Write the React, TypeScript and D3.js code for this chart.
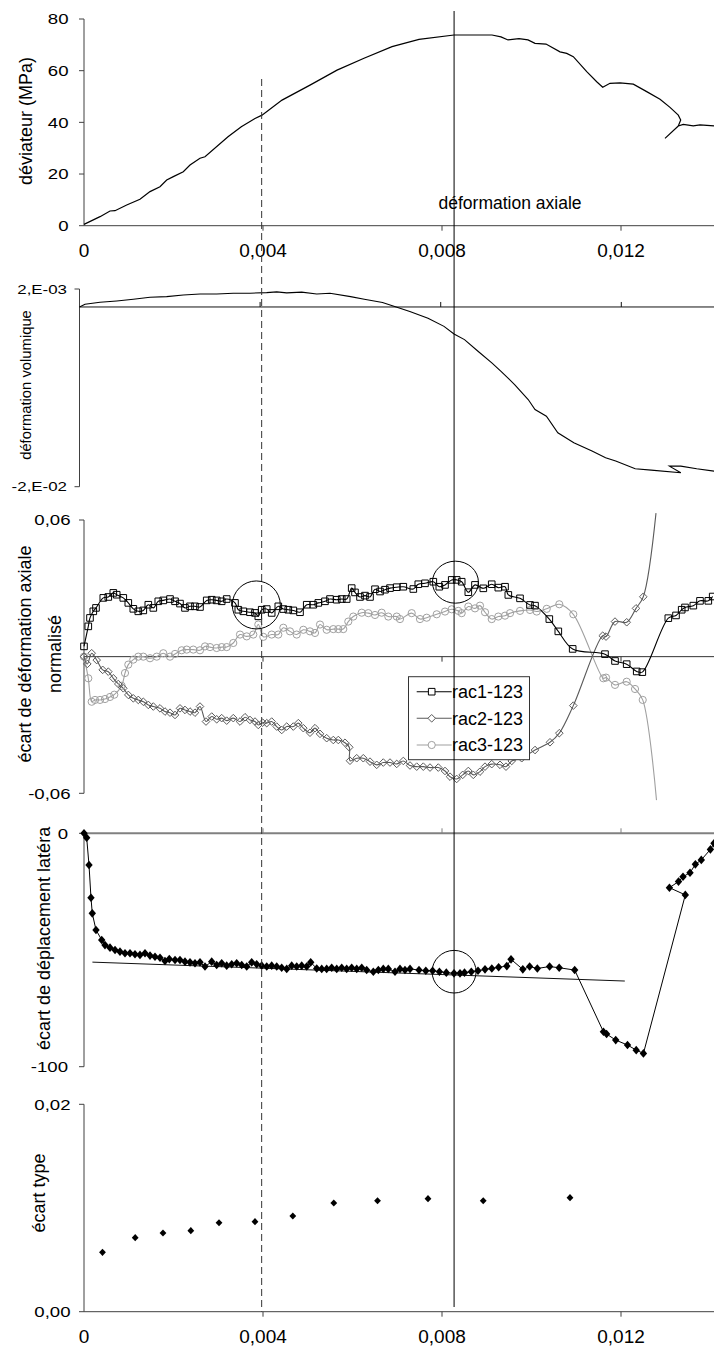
import React from "react";
import * as d3 from "d3";

const W = 714;
const H = 1347;
const FONT = "'Liberation Sans', Arial, Helvetica, sans-serif";
const E4 = 1e-4; // strain arrays below are given in units of 1e-4

// ---------- Panel 1 : déviateur (MPa) vs axial strain ----------
const devStrain = [0, 3.58, 5.81, 6.93, 9.54, 12.51, 14.75, 16.98, 18.48, 19.96, 22.19, 23.69, 25.92, 27.04, 32.18, 35.15, 38.21, 39.78, 44.25, 50.5, 56.54, 62.57, 68.83, 74.86, 82.68, 91.17, 93.18, 94.75, 97.21, 99.22, 100.78, 103.24, 106.37, 107.87, 109.34, 112.34, 114.57, 115.91, 117.54, 119.78, 122.75, 125.74, 128.72, 130.95, 132.8, 133.34, 132.8, 129.83, 132.8, 133.92, 136.15, 137.65, 140.78];
const devStress = [0.5, 3.5, 5.7, 5.8, 8.0, 10.2, 13.2, 15.1, 17.7, 19.0, 20.9, 23.5, 26.1, 26.7, 34.4, 38.3, 41.5, 42.8, 48.6, 54.4, 60.2, 64.8, 69.3, 72.1, 73.8, 73.8, 73.1, 71.9, 72.4, 71.9, 70.6, 70.3, 67.3, 66.7, 65.4, 59.6, 55.7, 53.6, 55.1, 55.3, 54.8, 51.9, 48.9, 45.8, 42.8, 40.9, 38.6, 33.8, 38.6, 39.2, 38.6, 39.0, 38.6];
const devTicks = [0, 20, 40, 60, 80];

// ---------- Panel 2 : déformation volumique ----------
const volStrain = [0, 1.22, 4.54, 8.24, 11.92, 15.61, 19.31, 22.99, 26.69, 30.39, 34.06, 37.76, 41.46, 43.68, 45.89, 49.21, 52.54, 55.48, 60.04, 63.08, 67.11, 70.14, 73.16, 77.19, 80.73, 82.95, 85.27, 88.26, 91.32, 93.36, 96.37, 99.38, 100.89, 103.41, 105.94, 109.48, 113.51, 116.52, 118.76, 123.08, 126.62, 133.18, 130.65, 133.18, 136.7, 140.53];
const volValue = [0, 0.0003, 0.00052, 0.00067, 0.00086, 0.00108, 0.00115, 0.00134, 0.00145, 0.00145, 0.00153, 0.00153, 0.0016, 0.00168, 0.00157, 0.00165, 0.00145, 0.00153, 0.00115, 0.00086, 0.0005, 0, -0.0005, -0.00125, -0.00216, -0.003, -0.00363, -0.00493, -0.00622, -0.00716, -0.00863, -0.0103, -0.01141, -0.01215, -0.014, -0.01511, -0.01604, -0.01678, -0.01715, -0.018, -0.01816, -0.01845, -0.01771, -0.01771, -0.018, -0.01827];
const volTicks = [0.002, -0.02];
const volTickLabels = ["2,E-03", "-2,E-02"];

// ---------- Panel 3 : écart de déformation axiale normalisé ----------
const rac1Strain = [0, 0.96, 1.34, 2.08, 2.68, 4.31, 5.43, 6.55, 7.31, 8.78, 9.9, 11.02, 12.13, 13.25, 14.37, 15.49, 16.6, 17.72, 19.22, 20.34, 21.45, 22.57, 23.69, 24.8, 25.92, 27.42, 28.54, 29.65, 30.77, 31.89, 33.74, 34.48, 35.6, 37.09, 38.21, 38.95, 39.71, 40.83, 41.94, 43.42, 44.54, 45.65, 46.77, 48.27, 49.77, 51.24, 52.36, 53.85, 54.97, 56.47, 57.59, 58.7, 59.82, 60.56, 61.68, 62.79, 63.91, 65.03, 66.15, 67.26, 68.38, 69.88, 71.35, 73.59, 74.7, 76.2, 78.06, 79.4, 80.67, 82.17, 83.28, 84.4, 85.88, 87.37, 89.23, 91.11, 92.58, 94.08, 94.82, 97.43, 99.66, 100.78, 103.98, 105.99, 109.2, 116.42, 118.66, 121.27, 123.51, 124.76, 130.57, 132.29, 133.56, 134.3, 136.16, 137.65, 139.51, 140.49];
const rac1Value = [0.0045, 0.0133, 0.017, 0.0199, 0.0214, 0.0258, 0.0262, 0.028, 0.0272, 0.0258, 0.0236, 0.021, 0.0199, 0.0203, 0.0228, 0.0214, 0.0243, 0.0247, 0.0253, 0.0243, 0.0233, 0.0214, 0.0221, 0.0221, 0.0218, 0.0247, 0.025, 0.0247, 0.0243, 0.0253, 0.0236, 0.0206, 0.0199, 0.0195, 0.0192, 0.0177, 0.0206, 0.0209, 0.0192, 0.0221, 0.0209, 0.0206, 0.0203, 0.0195, 0.0228, 0.0228, 0.0236, 0.0243, 0.0253, 0.025, 0.0253, 0.0253, 0.0301, 0.0282, 0.0262, 0.0268, 0.0262, 0.0296, 0.0286, 0.0294, 0.0301, 0.0305, 0.0307, 0.0297, 0.0318, 0.0322, 0.0329, 0.0307, 0.0315, 0.0337, 0.0337, 0.0329, 0.0283, 0.0315, 0.03, 0.0318, 0.0303, 0.0307, 0.0271, 0.0256, 0.0227, 0.0224, 0.0165, 0.0111, 0.0034, 0.0011, -0.0019, -0.0033, -0.0065, -0.0068, 0.0169, 0.0181, 0.0206, 0.0216, 0.0224, 0.0245, 0.0245, 0.0264];

const rac2Strain = [0, 0.74, 1.72, 2.84, 4.18, 5.43, 6.55, 7.66, 8.78, 9.9, 11.02, 12.13, 13.25, 14.37, 15.49, 16.98, 18.1, 19.22, 20.34, 21.45, 22.57, 23.69, 24.8, 25.92, 27.26, 28.54, 29.65, 30.77, 31.89, 33.36, 34.86, 35.98, 37.09, 38.21, 38.95, 39.93, 40.83, 41.94, 43.06, 44.18, 45.3, 46.77, 47.89, 49.01, 50.5, 51.62, 52.74, 54.23, 55.71, 56.83, 58.32, 59.28, 59.44, 60.94, 62.41, 63.91, 65.41, 66.88, 68.38, 69.88, 71.35, 72.85, 74.35, 75.82, 77.32, 79.17, 80.67, 81.79, 83.28, 84.63, 85.88, 86.99, 88.49, 89.61, 91.11, 92.96, 94.3, 95.58, 97.81, 100.78, 104.13, 106.21, 109.34, 115.91, 116.65, 118.66, 121.27, 123.35, 124.98, 127.82];
const rac2Value = [0, -0.0032, 0.0015, -0.0015, -0.0058, -0.0066, -0.0095, -0.012, -0.0139, -0.0168, -0.0183, -0.019, -0.0198, -0.0212, -0.0219, -0.0227, -0.0241, -0.0246, -0.0256, -0.0227, -0.0234, -0.0241, -0.0246, -0.0219, -0.0285, -0.0263, -0.0275, -0.027, -0.0281, -0.027, -0.0285, -0.0266, -0.0278, -0.0285, -0.03, -0.029, -0.0292, -0.0285, -0.0307, -0.0322, -0.0307, -0.0307, -0.0292, -0.0314, -0.0334, -0.0314, -0.0339, -0.0358, -0.0366, -0.0366, -0.0378, -0.0398, -0.0457, -0.0446, -0.0446, -0.0461, -0.0475, -0.0465, -0.0465, -0.0471, -0.0458, -0.0478, -0.0483, -0.0483, -0.0487, -0.0487, -0.0502, -0.0527, -0.0537, -0.0519, -0.0502, -0.0519, -0.0505, -0.0483, -0.0472, -0.0475, -0.0483, -0.0458, -0.0446, -0.041, -0.0376, -0.0336, -0.0215, 0.0092, 0.0088, 0.0154, 0.0151, 0.0212, 0.0263, 0.063];

const rac3Strain = [0, 0.96, 1.72, 2.46, 3.58, 4.69, 5.81, 6.77, 8.42, 9.16, 9.9, 11.02, 12.13, 13.25, 14.75, 16.25, 17.72, 19.22, 20.34, 21.83, 22.95, 24.42, 25.92, 27.04, 28.16, 29.65, 30.77, 31.89, 33.36, 34.86, 36.36, 37.83, 38.95, 40.07, 41.94, 43.42, 44.54, 46.03, 47.53, 49.01, 50.5, 51.62, 52.74, 54.23, 55.71, 56.83, 57.94, 59.06, 60.18, 62.06, 63.53, 65.03, 66.52, 68.0, 69.88, 70.61, 73.23, 75.08, 76.58, 78.82, 80.67, 82.17, 83.64, 84.4, 85.88, 87.37, 88.49, 89.61, 91.11, 92.58, 94.08, 95.2, 97.43, 99.66, 101.16, 103.4, 106.21, 109.34, 116.05, 116.65, 118.66, 121.27, 123.13, 124.85, 127.93];
const rac3Value = [0, -0.0095, -0.0198, -0.019, -0.019, -0.0186, -0.0177, -0.0167, -0.0128, -0.0072, -0.0035, -0.0013, 0, 0, -0.0007, 0, 0.0015, 0, 0.0012, 0.0028, 0.0031, 0.0031, 0.0028, 0.0045, 0.0042, 0.0038, 0.0042, 0.0042, 0.006, 0.0097, 0.0089, 0.0097, 0.0141, 0.0087, 0.0097, 0.0097, 0.0127, 0.0111, 0.0097, 0.0118, 0.0111, 0.0104, 0.0141, 0.0118, 0.0121, 0.0121, 0.0121, 0.0154, 0.0176, 0.0193, 0.0191, 0.0183, 0.0193, 0.0176, 0.0176, 0.0165, 0.0191, 0.0165, 0.0171, 0.0186, 0.0198, 0.0208, 0.0201, 0.0191, 0.022, 0.0212, 0.0224, 0.0195, 0.0165, 0.0176, 0.018, 0.0191, 0.0201, 0.0205, 0.0198, 0.021, 0.023, 0.0186, -0.0095, -0.0092, -0.0124, -0.011, -0.0142, -0.019, -0.063];

const seriesNames = ["rac1-123", "rac2-123", "rac3-123"];
const axTicks = [0.06, -0.06];
const axTickLabels = ["0,06", "-0,06"];

// ---------- Panel 4 : écart de déplacement latéral ----------
const latStrain = [0, 0.6, 1.12, 1.56, 1.85, 2.68, 3.96, 4.69, 5.81, 6.93, 8.04, 9.16, 10.28, 11.4, 12.51, 13.63, 14.75, 15.87, 16.98, 18.1, 19.06, 20.34, 21.45, 22.57, 23.69, 24.8, 25.92, 27.04, 28.54, 29.65, 30.77, 31.89, 33.01, 34.12, 35.24, 36.36, 37.47, 38.59, 39.71, 40.83, 41.94, 43.06, 44.18, 45.3, 46.41, 47.53, 48.65, 49.77, 50.66, 52.0, 53.12, 54.23, 55.35, 56.47, 57.59, 58.7, 59.82, 60.94, 62.06, 63.17, 64.65, 65.77, 66.88, 68.0, 69.5, 70.61, 71.73, 72.85, 74.86, 76.38, 77.9, 79.42, 80.96, 82.68, 84.02, 85.03, 86.55, 88.04, 89.61, 91.13, 92.65, 94.48, 95.42, 98.06, 99.58, 101.3, 104.04, 106.19, 109.65, 116.07, 116.78, 118.82, 121.45, 123.4, 125.01, 134.37, 130.82, 132.85, 133.85, 135.42, 136.62, 137.94, 139.98, 140.78];
const latValue = [0, -1.9, -13.6, -27.6, -34.3, -41.4, -45.7, -47.9, -49, -50, -50.7, -51.4, -51.4, -51.8, -52.1, -51.4, -52.4, -52.9, -53.3, -54.7, -53.9, -54.3, -54.3, -55, -55.3, -55.7, -55.3, -57.1, -55, -56.4, -55.7, -56.7, -56.1, -55.7, -56.4, -57.1, -55.3, -56.1, -56.7, -57.1, -56.7, -57.1, -57.6, -58.1, -56.7, -57.1, -56.7, -57.1, -55.3, -57.9, -58.1, -58.1, -57.6, -58.1, -57.6, -58.1, -57.6, -58.1, -57.6, -58.6, -59.3, -58.6, -58.1, -58.1, -59.3, -58.1, -58.6, -58.1, -58.6, -58.9, -58.9, -59.3, -59.7, -60, -60, -59.7, -59.3, -58.9, -58.3, -57.9, -57.4, -56.9, -54, -58.3, -57.1, -57.9, -57.1, -57.6, -58.6, -85, -86, -88.6, -90.7, -92.9, -94.3, -26.4, -23.3, -20.7, -18.6, -16.9, -13.3, -11.4, -6.9, -4.3];
const latFitStrain = [1.88, 120.85];
const latFitValue = [-55.2, -63.3];
const latTicks = [0, -100];
const latTickLabels = ["0", "-100"];

// ---------- Panel 5 : écart type ----------
const sdStrain = [4.13, 11.44, 17.65, 23.87, 30.17, 38.21, 46.66, 55.82, 65.59, 76.87, 89.21, 108.6];
const sdValue = [0.00573, 0.00714, 0.00759, 0.00781, 0.00858, 0.00868, 0.00923, 0.01048, 0.0107, 0.0109, 0.0107, 0.011];
const sdTicks = [0.02, 0];
const sdTickLabels = ["0,02", "0,00"];

// ---------- common ----------
const strainTicks = [0, 0.004, 0.008, 0.012];
const strainTickLabels = ["0", "0,004", "0,008", "0,012"];
const refStrain = 0.00397; // dashed line
const peakStrain = 0.00827; // solid line
// circled zones: [strain, value]
const circ3a = [0.00385, 0.0227];
const circ3b = [0.0083, 0.0327];
const circ4 = [0.00827, -59.3];

const x = d3.scaleLinear().domain([0, 0.014078]).range([84, 714]);
const x2 = d3.scaleLinear().domain([0, 0.014053]).range([79.5, 714]);
const y1 = d3.scaleLinear().domain([0, 80]).range([225.7, 19]);
const y2 = d3.scaleLinear().domain([-0.02, 0.002]).range([486.7, 289]);
const y3 = d3.scaleLinear().domain([-0.06, 0.06]).range([793.3, 520]);
const y4 = d3.scaleLinear().domain([-100, 0]).range([1066.7, 833.3]);
const y5 = d3.scaleLinear().domain([0, 0.02]).range([1311.7, 1104.3]);

const zip = (xs: number[], ys: number[]) => xs.map((s, i) => [s * E4, ys[i]] as [number, number]);

const AX = "#404040";

function YAxis({ ax, scale, ticks, labels, lx, fs = 15.5, sx = 1.2 }: any) {
  const [r0, r1] = scale.range();
  return (
    <g>
      <line x1={ax} x2={ax} y1={r0} y2={r1} stroke={AX} strokeWidth={1} />
      {ticks.map((t: number, i: number) => (
        <g key={i}>
          <line x1={ax - 5} x2={ax} y1={scale(t)} y2={scale(t)} stroke={AX} />
          <text
            transform={`translate(${lx},${scale(t)}) scale(${sx},1)`}
            textAnchor="end"
            dy="0.35em"
            fontSize={fs}
            fill="#000"
          >
            {labels[i]}
          </text>
        </g>
      ))}
    </g>
  );
}

function XAxis({ xs, yy, dir, color = AX, sw = 1, labels = false }: any) {
  const [a, b] = xs.range();
  return (
    <g>
      <line x1={a} x2={b} y1={yy} y2={yy} stroke={color} strokeWidth={sw} />
      {strainTicks.slice(1).map((t, i) => (
        <line key={i} x1={xs(t)} x2={xs(t)} y1={yy} y2={yy + dir * 5} stroke={color} strokeWidth={1} />
      ))}
      {labels &&
        strainTicks.map((t, i) => (
          <text key={"l" + i} x={xs(t)} y={yy + 31} textAnchor="middle" fontSize={19} fill="#000">
            {strainTickLabels[i]}
          </text>
        ))}
    </g>
  );
}

function RotLabel({ cx, cy, text, fs = 18, anchor = "middle" }: any) {
  return (
    <text
      transform={`translate(${cx},${cy}) rotate(-90)`}
      textAnchor={anchor}
      dy="0.35em"
      fontSize={fs}
      fill="#000"
    >
      {text}
    </text>
  );
}

const sq = (s: number) => `M${-s},${-s}H${s}V${s}H${-s}Z`;
const dia = (w: number, h: number) => `M0,${-h}L${w},0L0,${h}L${-w},0Z`;

export default function App() {
  const p1 = zip(devStrain, devStress);
  const p2 = zip(volStrain, volValue);
  const r1 = zip(rac1Strain, rac1Value);
  const r2 = zip(rac2Strain, rac2Value);
  const r3 = zip(rac3Strain, rac3Value);
  const p4 = zip(latStrain, latValue);
  const fit = zip(latFitStrain, latFitValue);
  const p5 = zip(sdStrain, sdValue);

  const line1 = d3.line<[number, number]>().x((d) => x(d[0])).y((d) => y1(d[1]));
  const line2 = d3.line<[number, number]>().x((d) => x2(d[0])).y((d) => y2(d[1]));
  const line3 = d3
    .line<[number, number]>()
    .x((d) => x(d[0]))
    .y((d) => y3(d[1]))
    .curve(d3.curveCatmullRom.alpha(0.5));
  const line4 = d3.line<[number, number]>().x((d) => x(d[0])).y((d) => y4(d[1]));

  const c1 = "#000";
  const c2 = "#5a5a5a";
  const c3 = "#a0a0a0";

  const legendY = [691.7, 718.3, 745];

  return (
    <svg width={W} height={H} viewBox={`0 0 ${W} ${H}`} style={{ display: "block", fontFamily: FONT, position: "absolute", left: 0, top: 0, background: "#fff" }}>
      <rect x={0} y={0} width={W} height={H} fill="#fff" />

      {/* ---------- Panel 1 ---------- */}
      <YAxis ax={x(0)} scale={y1} ticks={devTicks} labels={devTicks.map(String)} lx={68.5} />
      <XAxis xs={x} yy={y1(0)} dir={1} labels />
      <path d={line1(p1) || ""} fill="none" stroke="#000" strokeWidth={1.2} />
      <RotLabel cx={25.3} cy={121} text="déviateur (MPa)" fs={18} />
      <text x={510} y={209} textAnchor="middle" fontSize={17.5} fill="#000">
        déformation axiale
      </text>

      {/* ---------- Panel 2 ---------- */}
      <YAxis ax={x2(0)} scale={y2} ticks={volTicks} labels={volTickLabels} lx={67} fs={13} sx={1.3} />
      <XAxis xs={x2} yy={y2(0)} dir={-1} color="#111" />
      <path d={line2(p2) || ""} fill="none" stroke="#000" strokeWidth={1.1} />
      <RotLabel cx={25.7} cy={385} text="déformation volumique" fs={14.8} />

      {/* ---------- Panel 3 ---------- */}
      <YAxis ax={x(0)} scale={y3} ticks={axTicks} labels={axTickLabels} lx={70.5} />
      <XAxis xs={x} yy={y3(0)} dir={1} color="#333" />
      <path d={line3(r3) || ""} fill="none" stroke={c3} strokeWidth={1.1} />
      <path d={line3(r2) || ""} fill="none" stroke={c2} strokeWidth={1.1} />
      <path d={line3(r1) || ""} fill="none" stroke={c1} strokeWidth={1.1} />
      {r3.slice(0, -1).map((d, i) => (
        <circle key={"c" + i} cx={x(d[0])} cy={y3(d[1])} r={3.6} fill="none" stroke={c3} strokeWidth={1} />
      ))}
      {r2.slice(0, -1).map((d, i) => (
        <path key={"d" + i} transform={`translate(${x(d[0])},${y3(d[1])})`} d={dia(3.8, 3.8)} fill="none" stroke={c2} strokeWidth={1} />
      ))}
      {r1.map((d, i) => (
        <path key={"s" + i} transform={`translate(${x(d[0])},${y3(d[1])})`} d={sq(3.3)} fill="none" stroke={c1} strokeWidth={1} />
      ))}
      <ellipse cx={x(circ3a[0])} cy={y3(circ3a[1])} rx={24} ry={24} fill="none" stroke="#000" strokeWidth={1} />
      <ellipse cx={x(circ3b[0])} cy={y3(circ3b[1])} rx={23} ry={21} fill="none" stroke="#000" strokeWidth={1} />
      <RotLabel cx={25} cy={654} text="écart de déformation axiale" fs={18} />
      <RotLabel cx={54.5} cy={654} text="normalisé" fs={18} />
      {/* legend */}
      <g>
        <rect x={408.5} y={676.7} width={121} height={83} fill="#fff" stroke="#333" strokeWidth={1} />
        {seriesNames.map((n, i) => {
          const col = [c1, c2, c3][i];
          const yy = legendY[i];
          return (
            <g key={n}>
              <line x1={416.7} x2={451.7} y1={yy} y2={yy} stroke={col} strokeWidth={1.1} />
              {i === 0 && <path transform={`translate(431.7,${yy})`} d={sq(3.3)} fill="#fff" stroke={col} />}
              {i === 1 && <path transform={`translate(431.7,${yy})`} d={dia(3.8, 3.8)} fill="#fff" stroke={col} />}
              {i === 2 && <circle cx={431.7} cy={yy} r={3.6} fill="#fff" stroke={col} />}
              <text x={452} y={yy} dy="0.35em" fontSize={18} fill="#000">
                {n}
              </text>
            </g>
          );
        })}
      </g>

      {/* ---------- Panel 4 ---------- */}
      <YAxis ax={x(0)} scale={y4} ticks={latTicks} labels={latTickLabels} lx={68} />
      <XAxis xs={x} yy={y4(0)} dir={-1} color="#808080" sw={2} />
      <path d={line4(fit) || ""} fill="none" stroke="#111" strokeWidth={1} />
      <path d={line4(p4) || ""} fill="none" stroke="#000" strokeWidth={1} />
      {p4.map((d, i) => (
        <path key={"p4" + i} transform={`translate(${x(d[0])},${y4(d[1])})`} d={dia(3.7, 4.3)} fill="#000" />
      ))}
      <ellipse cx={x(circ4[0])} cy={y4(circ4[1])} rx={22} ry={21.3} fill="none" stroke="#000" strokeWidth={1} />
      <RotLabel cx={44} cy={1050} text="écart de déplacement latéra" fs={18} anchor="start" />

      {/* ---------- Panel 5 ---------- */}
      <YAxis ax={x(0)} scale={y5} ticks={sdTicks} labels={sdTickLabels} lx={70.5} />
      <XAxis xs={x} yy={y5(0)} dir={1} labels />
      {p5.map((d, i) => (
        <path key={"p5" + i} transform={`translate(${x(d[0])},${y5(d[1])})`} d={dia(3.4, 3.6)} fill="#000" />
      ))}
      <RotLabel cx={38.7} cy={1193} text="écart type" fs={18} />

      {/* ---------- reference verticals ---------- */}
      <line x1={x(refStrain)} x2={x(refStrain)} y1={79} y2={y5(0)} stroke="#333" strokeWidth={1} strokeDasharray="7,4" />
      <line x1={x(peakStrain)} x2={x(peakStrain)} y1={11} y2={1307} stroke="#000" strokeWidth={1} />
    </svg>
  );
}
